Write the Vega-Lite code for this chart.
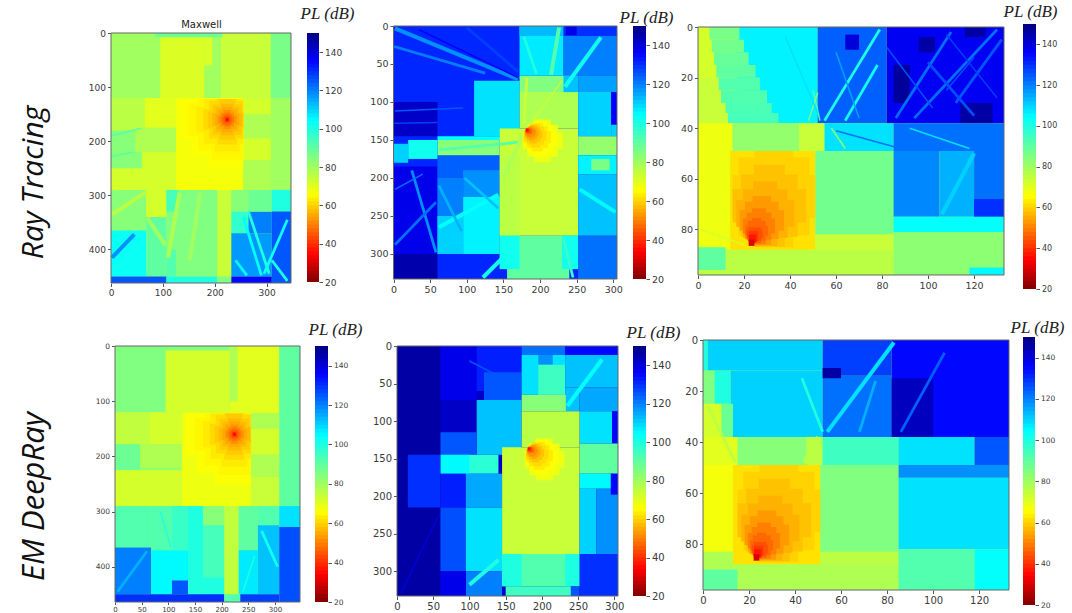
{"$schema":"https://vega.github.io/schema/vega-lite/v6.json","padding":0,"autosize":{"type":"pad"},"background":"white","config":{"view":{"stroke":null},"axis":{"grid":false,"domain":false,"labelFlush":false,"labelFont":"DejaVu Sans","labelColor":"#3a3a3a","tickColor":"#555","tickSize":3.5,"labelPadding":2,"titleFontWeight":"normal","labelOverlap":false}},
"datasets":{
"g1":[{"x":132,"x2":255,"y":122,"y2":198,"v":66},{"x":154,"x2":255,"y":122,"y2":230,"v":66},{"x":186,"x2":255,"y":122,"y2":252,"v":66},{"x":150,"x2":255,"y":130,"y2":190,"v":64.5},{"x":168,"x2":255,"y":122,"y2":216,"v":64.5},{"x":194,"x2":254,"y":122,"y2":234,"v":64.5},{"x":165,"x2":255,"y":136,"y2":184,"v":63},{"x":179,"x2":255,"y":122,"y2":205,"v":63},{"x":200,"x2":248,"y":122,"y2":219,"v":63},{"x":178,"x2":255,"y":141,"y2":179,"v":61},{"x":189,"x2":255,"y":125,"y2":195,"v":61},{"x":205,"x2":243,"y":122,"y2":206,"v":61},{"x":187,"x2":255,"y":145,"y2":175,"v":59},{"x":196,"x2":252,"y":132,"y2":188,"v":59},{"x":209,"x2":239,"y":123,"y2":197,"v":59},{"x":195,"x2":253,"y":148,"y2":172,"v":57},{"x":202,"x2":246,"y":138,"y2":182,"v":57},{"x":212,"x2":236,"y":131,"y2":189,"v":57},{"x":201,"x2":247,"y":150,"y2":170,"v":55},{"x":206.5,"x2":241.5,"y":142.5,"y2":177.5,"v":55},{"x":214,"x2":234,"y":137,"y2":183,"v":55},{"x":206.5,"x2":241.5,"y":153,"y2":167,"v":52},{"x":211,"x2":237,"y":147,"y2":173,"v":52},{"x":217,"x2":231,"y":142.5,"y2":177.5,"v":52},{"x":211,"x2":237,"y":155,"y2":165,"v":49},{"x":214,"x2":234,"y":150,"y2":170,"v":49},{"x":219,"x2":229,"y":147,"y2":173,"v":49},{"x":215,"x2":233,"y":156,"y2":164,"v":46},{"x":217,"x2":231,"y":153,"y2":167,"v":46},{"x":220,"x2":228,"y":151,"y2":169,"v":46},{"x":219,"x2":229,"y":155,"y2":165,"v":43},{"x":220.5,"x2":227.5,"y":156.5,"y2":163.5,"v":39},{"x":222,"x2":226,"y":158,"y2":162,"v":34}],
"g2":[{"x":176,"x2":231,"y":140,"y2":162,"v":68},{"x":182.5,"x2":224.5,"y":130,"y2":172,"v":68},{"x":192,"x2":215,"y":123,"y2":179,"v":68},{"x":177,"x2":223,"y":139,"y2":158,"v":66},{"x":182.5,"x2":217.5,"y":131,"y2":166,"v":66},{"x":190.5,"x2":209.5,"y":125.6,"y2":171.6,"v":66},{"x":177.5,"x2":215,"y":138.4,"y2":154,"v":63},{"x":182,"x2":210.6,"y":132,"y2":160.5,"v":63},{"x":188.5,"x2":204,"y":127.4,"y2":165,"v":63},{"x":178,"x2":209,"y":138,"y2":150.8,"v":61},{"x":181.8,"x2":205.4,"y":132.6,"y2":156.2,"v":61},{"x":187.2,"x2":200,"y":129,"y2":159.9,"v":61},{"x":178.9,"x2":203,"y":137.6,"y2":147.6,"v":58},{"x":181.8,"x2":200.2,"y":133.4,"y2":151.8,"v":58},{"x":186,"x2":196,"y":130.5,"y2":154.7,"v":58},{"x":179.3,"x2":198,"y":137.2,"y2":145,"v":55},{"x":181.6,"x2":195.8,"y":134,"y2":148.2,"v":55},{"x":184.8,"x2":192.6,"y":131.7,"y2":150.5,"v":55},{"x":179.7,"x2":194,"y":137,"y2":142.9,"v":52},{"x":181.4,"x2":192.4,"y":134.4,"y2":145.4,"v":52},{"x":183.9,"x2":189.9,"y":132.7,"y2":147,"v":52},{"x":180,"x2":190,"y":136.6,"y2":140.8,"v":48},{"x":181.2,"x2":188.8,"y":134.9,"y2":142.5,"v":48},{"x":180.4,"x2":187,"y":135,"y2":140.6,"v":44},{"x":180.6,"x2":185,"y":135,"y2":139.4,"v":39},{"x":180.7,"x2":183.1,"y":135.4,"y2":137.8,"v":33}],
"g3":[{"x":15,"x2":51,"y":58.6,"y2":75.4,"v":60},{"x":17.6,"x2":48.4,"y":51.6,"y2":82.4,"v":60},{"x":24.6,"x2":41.4,"y":49,"y2":87,"v":60},{"x":15,"x2":47,"y":64,"y2":77.3,"v":58},{"x":18.7,"x2":43.3,"y":58.3,"y2":82.9,"v":58},{"x":24.3,"x2":37.7,"y":54.4,"y2":86.8,"v":58},{"x":16.6,"x2":41.9,"y":68.5,"y2":79,"v":56},{"x":19.6,"x2":38.9,"y":64.1,"y2":83.4,"v":56},{"x":24,"x2":34.5,"y":61.1,"y2":86.4,"v":56},{"x":18.1,"x2":37.4,"y":72.4,"y2":80.5,"v":53},{"x":20.4,"x2":35,"y":69.1,"y2":83.8,"v":53},{"x":23.7,"x2":31.8,"y":66.8,"y2":86.1,"v":53},{"x":19.5,"x2":33.5,"y":75.7,"y2":81.7,"v":50},{"x":21.1,"x2":31.9,"y":73.3,"y2":84.1,"v":50},{"x":23.5,"x2":29.5,"y":71.6,"y2":85.8,"v":50},{"x":20.5,"x2":30.5,"y":78.5,"y2":82.5,"v":47},{"x":21.6,"x2":29.4,"y":76.6,"y2":84.4,"v":47},{"x":23.5,"x2":27.5,"y":75.5,"y2":85.5,"v":47},{"x":22,"x2":27.5,"y":79.2,"y2":84.6,"v":44},{"x":21.2,"x2":28.2,"y":80.3,"y2":83.4,"v":44},{"x":22.2,"x2":26.2,"y":80.7,"y2":84.7,"v":41},{"x":22.1,"x2":25.4,"y":82,"y2":85.3,"v":37},{"x":22,"x2":24.5,"y":84,"y2":86.5,"v":30}],
"a":[{"x":0,"x2":347,"y":0,"y2":462,"v":78},{"x":0,"x2":95,"y":0,"y2":120,"v":80},{"x":95,"x2":180,"y":5,"y2":120,"v":71},{"x":180,"x2":212,"y":0,"y2":122,"v":80},{"x":180,"x2":195,"y":0,"y2":60,"v":71},{"x":212,"x2":308,"y":0,"y2":122,"v":74},{"x":85,"x2":215,"y":0,"y2":8,"v":88},{"x":308,"x2":347,"y":0,"y2":120,"v":86},{"x":308,"x2":347,"y":120,"y2":290,"v":80},{"x":0,"x2":65,"y":120,"y2":180,"v":76},{"x":65,"x2":125,"y":120,"y2":175,"v":70},{"x":125,"x2":255,"y":120,"y2":290,"v":67},{"x":47,"x2":125,"y":175,"y2":220,"v":78},{"x":0,"x2":47,"y":180,"y2":290,"v":84},{"x":0,"x2":125,"y":220,"y2":290,"v":72},{"x":0,"x2":60,"y":220,"y2":250,"v":84},{"x":255,"x2":308,"y":122,"y2":150,"v":72},{"x":255,"x2":308,"y":150,"y2":195,"v":78},{"x":255,"x2":308,"y":195,"y2":235,"v":72},{"x":255,"x2":308,"y":235,"y2":290,"v":78},{"x":0,"x2":68,"y":290,"y2":365,"v":84},{"x":0,"x2":68,"y":365,"y2":450,"v":103},{"x":68,"x2":107,"y":290,"y2":340,"v":72},{"x":68,"x2":107,"y":340,"y2":450,"v":90},{"x":107,"x2":205,"y":290,"y2":450,"v":85},{"x":107,"x2":130,"y":290,"y2":330,"v":94},{"x":107,"x2":125,"y":400,"y2":450,"v":92},{"x":205,"x2":232,"y":290,"y2":462,"v":74},{"x":232,"x2":265,"y":290,"y2":330,"v":84},{"x":232,"x2":265,"y":330,"y2":370,"v":97},{"x":232,"x2":310,"y":370,"y2":450,"v":117},{"x":265,"x2":310,"y":330,"y2":370,"v":120},{"x":265,"x2":310,"y":290,"y2":330,"v":88},{"x":310,"x2":347,"y":290,"y2":330,"v":100},{"x":310,"x2":347,"y":330,"y2":462,"v":125},{"x":0,"x2":107,"y":450,"y2":462,"v":125},{"x":107,"x2":205,"y":450,"y2":462,"v":100},{"x":205,"x2":232,"y":450,"y2":462,"v":85},{"x":232,"x2":310,"y":450,"y2":462,"v":135}],
"ab":[{"x":8,"y":289,"x2":125,"y2":222,"v":72,"b":"w"},{"x":265,"y":330,"x2":305,"y2":445,"v":100,"b":"m"},{"x":255,"y":340,"x2":290,"y2":448,"v":104,"b":"m"},{"x":340,"y":345,"x2":295,"y2":445,"v":102,"b":"m"},{"x":310,"y":420,"x2":340,"y2":458,"v":100,"b":"m"},{"x":240,"y":420,"x2":262,"y2":448,"v":105,"b":"m"},{"x":2,"y":415,"x2":45,"y2":372,"v":118,"b":"w"},{"x":110,"y":415,"x2":132,"y2":295,"v":78,"b":"w"},{"x":152,"y":420,"x2":172,"y2":295,"v":80,"b":"w"},{"x":70,"y":342,"x2":105,"y2":392,"v":80,"b":"w"},{"x":1,"y":190,"x2":58,"y2":176,"v":92,"b":"n"},{"x":1,"y":228,"x2":44,"y2":220,"v":92,"b":"n"},{"x":2,"y":335,"x2":67,"y2":295,"v":76,"b":"w"}],
"b":[{"x":0,"x2":305,"y":0,"y2":333,"v":131},{"x":0,"x2":60,"y":100,"y2":145,"v":142},{"x":0,"x2":60,"y":185,"y2":300,"v":138},{"x":0,"x2":60,"y":300,"y2":333,"v":145},{"x":60,"x2":145,"y":170,"y2":200,"v":124},{"x":60,"x2":95,"y":200,"y2":300,"v":120},{"x":95,"x2":145,"y":190,"y2":225,"v":118},{"x":95,"x2":145,"y":225,"y2":300,"v":106},{"x":60,"x2":95,"y":250,"y2":300,"v":110},{"x":110,"x2":172,"y":72,"y2":145,"v":108},{"x":60,"x2":172,"y":145,"y2":150,"v":104},{"x":60,"x2":145,"y":150,"y2":170,"v":84},{"x":20,"x2":60,"y":150,"y2":175,"v":102},{"x":0,"x2":20,"y":155,"y2":180,"v":110},{"x":172,"x2":233,"y":65,"y2":87,"v":85},{"x":172,"x2":252,"y":87,"y2":135,"v":78},{"x":145,"x2":252,"y":135,"y2":276,"v":74},{"x":145,"x2":172,"y":170,"y2":276,"v":76},{"x":145,"x2":252,"y":276,"y2":320,"v":90},{"x":145,"x2":172,"y":276,"y2":320,"v":102},{"x":230,"x2":252,"y":276,"y2":320,"v":102},{"x":155,"x2":240,"y":320,"y2":333,"v":90},{"x":252,"x2":297,"y":87,"y2":145,"v":110},{"x":297,"x2":305,"y":87,"y2":130,"v":136},{"x":297,"x2":305,"y":130,"y2":145,"v":110},{"x":252,"x2":305,"y":145,"y2":170,"v":82},{"x":252,"x2":305,"y":170,"y2":195,"v":106},{"x":270,"x2":295,"y":175,"y2":190,"v":86},{"x":252,"x2":305,"y":195,"y2":276,"v":112},{"x":252,"x2":305,"y":276,"y2":333,"v":122},{"x":172,"x2":232,"y":0,"y2":65,"v":107},{"x":172,"x2":232,"y":0,"y2":13,"v":113},{"x":232,"x2":305,"y":13,"y2":65,"v":120},{"x":232,"x2":252,"y":65,"y2":87,"v":112},{"x":252,"x2":305,"y":65,"y2":87,"v":116},{"x":232,"x2":305,"y":0,"y2":13,"v":130},{"x":235,"x2":250,"y":0,"y2":12,"v":138}],
"bb":[{"x":2,"y":3,"x2":170,"y2":70,"v":118,"b":"w"},{"x":1,"y":27,"x2":125,"y2":62,"v":120,"b":"m"},{"x":35,"y":5,"x2":170,"y2":68,"v":136,"b":"n"},{"x":215,"y":64,"x2":226,"y2":2,"v":92,"b":"w"},{"x":234,"y":80,"x2":283,"y2":15,"v":102,"b":"w"},{"x":178,"y":14,"x2":195,"y2":63,"v":100,"b":"m"},{"x":25,"y":190,"x2":58,"y2":298,"v":118,"b":"m"},{"x":2,"y":288,"x2":58,"y2":232,"v":122,"b":"m"},{"x":62,"y":265,"x2":143,"y2":222,"v":104,"b":"w"},{"x":122,"y":331,"x2":170,"y2":285,"v":102,"b":"w"},{"x":232,"y":280,"x2":245,"y2":331,"v":96,"b":"m"},{"x":2,"y":112,"x2":95,"y2":108,"v":125,"b":"n"},{"x":1,"y":128,"x2":60,"y2":127,"v":128,"b":"n"},{"x":62,"y":163,"x2":170,"y2":153,"v":92,"b":"m"},{"x":150,"y":200,"x2":178,"y2":140,"v":78,"b":"w"},{"x":182,"y":68,"x2":178,"y2":130,"v":74,"b":"m"},{"x":230,"y":72,"x2":186,"y2":130,"v":74,"b":"n"},{"x":254,"y":215,"x2":303,"y2":245,"v":105,"b":"w"},{"x":100,"y":2,"x2":170,"y2":60,"v":128,"b":"m"},{"x":97,"y":200,"x2":143,"y2":240,"v":112,"b":"m"},{"x":62,"y":210,"x2":93,"y2":270,"v":114,"b":"m"},{"x":2,"y":215,"x2":40,"y2":195,"v":122,"b":"n"}],
"c":[{"x":0,"x2":133,"y":0,"y2":98,"v":74},{"x":17,"x2":52,"y":0,"y2":38,"v":106},{"x":0,"x2":5,"y":0,"y2":5,"v":72},{"x":5,"x2":18,"y":0,"y2":5,"v":86},{"x":0,"x2":6,"y":5,"y2":10,"v":72},{"x":6,"x2":20,"y":5,"y2":10,"v":87},{"x":0,"x2":7,"y":10,"y2":15,"v":72},{"x":7,"x2":22,"y":10,"y2":15,"v":89},{"x":0,"x2":8,"y":15,"y2":20,"v":72},{"x":8,"x2":25,"y":15,"y2":20,"v":90},{"x":0,"x2":9,"y":20,"y2":25,"v":74},{"x":9,"x2":27,"y":20,"y2":25,"v":92},{"x":0,"x2":10,"y":25,"y2":30,"v":74},{"x":10,"x2":30,"y":25,"y2":30,"v":92},{"x":0,"x2":12,"y":30,"y2":34,"v":74},{"x":12,"x2":32,"y":30,"y2":34,"v":93},{"x":0,"x2":13,"y":34,"y2":38,"v":74},{"x":13,"x2":35,"y":34,"y2":38,"v":94},{"x":52,"x2":82,"y":0,"y2":38,"v":124},{"x":82,"x2":133,"y":0,"y2":38,"v":137},{"x":85,"x2":92,"y":15,"y2":30,"v":147},{"x":114,"x2":128,"y":30,"y2":38,"v":146},{"x":64,"x2":70,"y":3,"y2":9,"v":140},{"x":96,"x2":103,"y":4,"y2":10,"v":146},{"x":116,"x2":125,"y":0,"y2":4,"v":146},{"x":0,"x2":15,"y":38,"y2":49,"v":68},{"x":15,"x2":44,"y":38,"y2":49,"v":82},{"x":44,"x2":55,"y":38,"y2":49,"v":74},{"x":55,"x2":85,"y":38,"y2":49,"v":108},{"x":85,"x2":133,"y":38,"y2":49,"v":122},{"x":0,"x2":14,"y":49,"y2":88,"v":68},{"x":14,"x2":51,"y":49,"y2":88,"v":62},{"x":51,"x2":85,"y":49,"y2":82,"v":87},{"x":85,"x2":105,"y":49,"y2":75,"v":119},{"x":105,"x2":120,"y":49,"y2":75,"v":114},{"x":120,"x2":133,"y":49,"y2":75,"v":122},{"x":120,"x2":133,"y":68,"y2":75,"v":130},{"x":85,"x2":133,"y":75,"y2":81,"v":104},{"x":0,"x2":85,"y":88,"y2":98,"v":76},{"x":51,"x2":85,"y":82,"y2":88,"v":74},{"x":85,"x2":133,"y":81,"y2":98,"v":83},{"x":0,"x2":12,"y":87,"y2":96,"v":90},{"x":118,"x2":133,"y":95,"y2":98,"v":105}],
"cb":[{"x":79,"y":1,"x2":55,"y2":37,"v":100,"b":"m"},{"x":78,"y":15,"x2":64,"y2":37,"v":102,"b":"m"},{"x":110,"y":2,"x2":86,"y2":36,"v":122,"b":"m"},{"x":130,"y":1,"x2":94,"y2":36,"v":122,"b":"m"},{"x":82,"y":8,"x2":102,"y2":32,"v":126,"b":"n"},{"x":108,"y":25,"x2":120,"y2":12,"v":126,"b":"n"},{"x":58,"y":40,"x2":64,"y2":48,"v":85,"b":"n"},{"x":60,"y":41,"x2":88,"y2":48,"v":122,"b":"n"},{"x":92,"y":40,"x2":118,"y2":48,"v":108,"b":"n"},{"x":106,"y":74,"x2":120,"y2":50,"v":110,"b":"w"},{"x":53,"y":37,"x2":50,"y2":25,"v":95,"b":"n"},{"x":48,"y":37,"x2":52,"y2":26,"v":85,"b":"n"},{"x":1,"y":80,"x2":20,"y2":86,"v":72,"b":"n"},{"x":38,"y":4,"x2":52,"y2":34,"v":108,"b":"n"},{"x":132,"y":5,"x2":112,"y2":30,"v":125,"b":"m"},{"x":100,"y":14,"x2":120,"y2":35,"v":126,"b":"m"},{"x":108,"y":3,"x2":130,"y2":28,"v":128,"b":"n"},{"x":60,"y":10,"x2":70,"y2":36,"v":116,"b":"n"}],
"d":[{"x":0,"x2":347,"y":0,"y2":464,"v":82},{"x":0,"x2":95,"y":0,"y2":120,"v":85},{"x":85,"x2":220,"y":0,"y2":8,"v":85},{"x":95,"x2":215,"y":8,"y2":120,"v":72},{"x":215,"x2":308,"y":0,"y2":122,"v":70},{"x":215,"x2":230,"y":0,"y2":100,"v":78},{"x":308,"x2":347,"y":0,"y2":290,"v":90},{"x":0,"x2":65,"y":120,"y2":180,"v":75},{"x":65,"x2":125,"y":120,"y2":178,"v":72},{"x":125,"x2":255,"y":120,"y2":290,"v":68},{"x":47,"x2":125,"y":178,"y2":220,"v":78},{"x":0,"x2":47,"y":178,"y2":225,"v":88},{"x":0,"x2":125,"y":225,"y2":290,"v":72},{"x":255,"x2":308,"y":122,"y2":150,"v":78},{"x":255,"x2":308,"y":150,"y2":197,"v":72},{"x":255,"x2":308,"y":197,"y2":237,"v":78},{"x":255,"x2":308,"y":237,"y2":290,"v":74},{"x":0,"x2":68,"y":290,"y2":365,"v":92},{"x":0,"x2":68,"y":365,"y2":450,"v":120},{"x":68,"x2":107,"y":290,"y2":370,"v":92},{"x":68,"x2":137,"y":370,"y2":450,"v":105},{"x":107,"x2":137,"y":290,"y2":370,"v":96},{"x":107,"x2":137,"y":425,"y2":450,"v":125},{"x":137,"x2":165,"y":290,"y2":450,"v":100},{"x":165,"x2":205,"y":290,"y2":325,"v":84},{"x":165,"x2":205,"y":325,"y2":450,"v":94},{"x":165,"x2":205,"y":420,"y2":450,"v":100},{"x":205,"x2":232,"y":290,"y2":450,"v":75},{"x":232,"x2":268,"y":290,"y2":370,"v":90},{"x":232,"x2":268,"y":370,"y2":450,"v":107},{"x":268,"x2":308,"y":290,"y2":325,"v":92},{"x":268,"x2":308,"y":325,"y2":450,"v":112},{"x":308,"x2":347,"y":290,"y2":328,"v":108},{"x":308,"x2":347,"y":328,"y2":464,"v":126},{"x":0,"x2":205,"y":450,"y2":464,"v":130},{"x":205,"x2":235,"y":450,"y2":464,"v":92},{"x":235,"x2":308,"y":450,"y2":464,"v":128}],
"db":[{"x":2,"y":290,"x2":65,"y2":250,"v":72,"b":"n"},{"x":5,"y":445,"x2":60,"y2":372,"v":114,"b":"m"},{"x":85,"y":300,"x2":105,"y2":365,"v":100,"b":"n"},{"x":275,"y":335,"x2":305,"y2":400,"v":102,"b":"m"},{"x":240,"y":445,"x2":262,"y2":380,"v":100,"b":"n"}],
"e":[{"x":0,"x2":305,"y":0,"y2":333,"v":142},{"x":0,"x2":60,"y":0,"y2":333,"v":146},{"x":60,"x2":110,"y":0,"y2":72,"v":138},{"x":110,"x2":172,"y":0,"y2":60,"v":132},{"x":120,"x2":172,"y":35,"y2":72,"v":125},{"x":110,"x2":172,"y":72,"y2":145,"v":112},{"x":60,"x2":110,"y":115,"y2":145,"v":125},{"x":172,"x2":232,"y":0,"y2":12,"v":122},{"x":172,"x2":232,"y":12,"y2":65,"v":108},{"x":195,"x2":215,"y":12,"y2":25,"v":118},{"x":195,"x2":232,"y":25,"y2":65,"v":95},{"x":232,"x2":305,"y":0,"y2":12,"v":135},{"x":232,"x2":305,"y":12,"y2":55,"v":112},{"x":232,"x2":252,"y":55,"y2":87,"v":112},{"x":252,"x2":305,"y":55,"y2":87,"v":115},{"x":252,"x2":297,"y":87,"y2":130,"v":108},{"x":297,"x2":305,"y":87,"y2":130,"v":135},{"x":252,"x2":305,"y":130,"y2":170,"v":90},{"x":172,"x2":233,"y":65,"y2":87,"v":84},{"x":172,"x2":252,"y":87,"y2":135,"v":76},{"x":145,"x2":252,"y":135,"y2":277,"v":74},{"x":60,"x2":140,"y":145,"y2":170,"v":98},{"x":60,"x2":100,"y":145,"y2":170,"v":105},{"x":15,"x2":60,"y":145,"y2":215,"v":130},{"x":60,"x2":95,"y":170,"y2":215,"v":132},{"x":60,"x2":95,"y":215,"y2":300,"v":126},{"x":95,"x2":145,"y":170,"y2":215,"v":115},{"x":95,"x2":145,"y":215,"y2":300,"v":108},{"x":95,"x2":145,"y":300,"y2":333,"v":120},{"x":60,"x2":95,"y":300,"y2":333,"v":138},{"x":145,"x2":252,"y":277,"y2":320,"v":92},{"x":145,"x2":172,"y":277,"y2":320,"v":100},{"x":232,"x2":252,"y":277,"y2":320,"v":100},{"x":150,"x2":240,"y":320,"y2":333,"v":95},{"x":240,"x2":252,"y":320,"y2":333,"v":125},{"x":252,"x2":305,"y":170,"y2":190,"v":105},{"x":252,"x2":275,"y":190,"y2":277,"v":110},{"x":275,"x2":305,"y":190,"y2":277,"v":118},{"x":252,"x2":305,"y":277,"y2":333,"v":130},{"x":295,"x2":305,"y":170,"y2":198,"v":135}],
"eb":[{"x":235,"y":80,"x2":283,"y2":18,"v":104,"b":"w"},{"x":100,"y":318,"x2":140,"y2":285,"v":100,"b":"w"},{"x":100,"y":20,"x2":170,"y2":55,"v":125,"b":"n"},{"x":5,"y":330,"x2":58,"y2":225,"v":140,"b":"n"}],
"f":[{"x":0,"x2":133,"y":0,"y2":98,"v":78},{"x":0,"x2":2,"y":0,"y2":12,"v":100},{"x":2,"x2":52,"y":0,"y2":12,"v":110},{"x":0,"x2":5,"y":12,"y2":25,"v":85},{"x":5,"x2":12,"y":12,"y2":25,"v":100},{"x":12,"x2":52,"y":12,"y2":38,"v":110},{"x":0,"x2":8,"y":25,"y2":38,"v":72},{"x":8,"x2":13,"y":25,"y2":38,"v":88},{"x":52,"x2":82,"y":14,"y2":38,"v":122},{"x":52,"x2":82,"y":0,"y2":14,"v":128},{"x":82,"x2":133,"y":0,"y2":38,"v":135},{"x":82,"x2":100,"y":15,"y2":38,"v":143},{"x":52,"x2":60,"y":11,"y2":15,"v":146},{"x":0,"x2":15,"y":38,"y2":49,"v":70},{"x":15,"x2":45,"y":38,"y2":49,"v":84},{"x":45,"x2":52,"y":38,"y2":49,"v":76},{"x":52,"x2":85,"y":38,"y2":49,"v":95},{"x":85,"x2":118,"y":38,"y2":49,"v":108},{"x":118,"x2":133,"y":38,"y2":49,"v":125},{"x":0,"x2":13,"y":49,"y2":83,"v":67},{"x":13,"x2":51,"y":49,"y2":88,"v":62},{"x":51,"x2":85,"y":49,"y2":83,"v":85},{"x":85,"x2":133,"y":54,"y2":82,"v":108},{"x":85,"x2":133,"y":49,"y2":54,"v":118},{"x":0,"x2":85,"y":88,"y2":98,"v":78},{"x":51,"x2":85,"y":83,"y2":88,"v":76},{"x":0,"x2":13,"y":83,"y2":88,"v":78},{"x":85,"x2":118,"y":82,"y2":98,"v":92},{"x":118,"x2":133,"y":82,"y2":98,"v":104},{"x":0,"x2":15,"y":90,"y2":98,"v":90}],
"fb":[{"x":83,"y":1,"x2":54,"y2":36,"v":108,"b":"w"},{"x":50,"y":38,"x2":44,"y2":48,"v":76,"b":"w"},{"x":43,"y":15,"x2":52,"y2":36,"v":100,"b":"m"},{"x":105,"y":5,"x2":86,"y2":36,"v":124,"b":"m"},{"x":68,"y":36,"x2":75,"y2":16,"v":114,"b":"m"},{"x":2,"y":26,"x2":14,"y2":48,"v":76,"b":"m"}],
"bar":[{"y":20,"y2":23,"v":21},{"y":22,"y2":25,"v":23},{"y":24,"y2":27,"v":25},{"y":26,"y2":29,"v":27},{"y":28,"y2":31,"v":29},{"y":30,"y2":33,"v":31},{"y":32,"y2":35,"v":33},{"y":34,"y2":37,"v":35},{"y":36,"y2":39,"v":37},{"y":38,"y2":41,"v":39},{"y":40,"y2":43,"v":41},{"y":42,"y2":45,"v":43},{"y":44,"y2":47,"v":45},{"y":46,"y2":49,"v":47},{"y":48,"y2":51,"v":49},{"y":50,"y2":53,"v":51},{"y":52,"y2":55,"v":53},{"y":54,"y2":57,"v":55},{"y":56,"y2":59,"v":57},{"y":58,"y2":61,"v":59},{"y":60,"y2":63,"v":61},{"y":62,"y2":65,"v":63},{"y":64,"y2":67,"v":65},{"y":66,"y2":69,"v":67},{"y":68,"y2":71,"v":69},{"y":70,"y2":73,"v":71},{"y":72,"y2":75,"v":73},{"y":74,"y2":77,"v":75},{"y":76,"y2":79,"v":77},{"y":78,"y2":81,"v":79},{"y":80,"y2":83,"v":81},{"y":82,"y2":85,"v":83},{"y":84,"y2":87,"v":85},{"y":86,"y2":89,"v":87},{"y":88,"y2":91,"v":89},{"y":90,"y2":93,"v":91},{"y":92,"y2":95,"v":93},{"y":94,"y2":97,"v":95},{"y":96,"y2":99,"v":97},{"y":98,"y2":101,"v":99},{"y":100,"y2":103,"v":101},{"y":102,"y2":105,"v":103},{"y":104,"y2":107,"v":105},{"y":106,"y2":109,"v":107},{"y":108,"y2":111,"v":109},{"y":110,"y2":113,"v":111},{"y":112,"y2":115,"v":113},{"y":114,"y2":117,"v":115},{"y":116,"y2":119,"v":117},{"y":118,"y2":121,"v":119},{"y":120,"y2":123,"v":121},{"y":122,"y2":125,"v":123},{"y":124,"y2":127,"v":125},{"y":126,"y2":129,"v":127},{"y":128,"y2":131,"v":129},{"y":130,"y2":133,"v":131},{"y":132,"y2":135,"v":133},{"y":134,"y2":137,"v":135},{"y":136,"y2":139,"v":137},{"y":138,"y2":141,"v":139},{"y":140,"y2":143,"v":141},{"y":142,"y2":145,"v":143},{"y":144,"y2":147,"v":145},{"y":146,"y2":149,"v":147},{"y":148,"y2":150,"v":149}]
},
"concat":[
{"width":305,"height":308,"encoding":{"x":{"field":"x","type":"quantitative","scale":{"domain":[0,347],"range":[111,291],"nice":false,"zero":false},"axis":{"values":[0,100,200,300],"offset":-25,"labelFontSize":9,"title":"Maxwell","titleFont":"DejaVu Sans","titleFontSize":10,"titleColor":"#222","titleX":201,"titleY":-256,"titleBaseline":"alphabetic","titleAlign":"center"}},"x2":{"field":"x2"},"y":{"field":"y","type":"quantitative","scale":{"domain":[0,462],"range":[33,283],"nice":false,"zero":false},"axis":{"values":[0,100,200,300,400],"offset":-111,"labelFontSize":9,"title":"Ray Tracing","titleFont":"Open Sans","titleFontStyle":"italic","titleFontSize":30,"titleColor":"#111","titleX":-69,"titleY":182,"titleAngle":-90,"titleBaseline":"alphabetic","titleAlign":"center"}},"y2":{"field":"y2"},"color":{"field":"v","type":"quantitative","legend":null,"scale":{"domain":[20,34.3,65.5,85,104.5,135.7,150],"range":["#800000","#ff0000","#ffff00","#80ff80","#00ffff","#0000ff","#000080"],"interpolate":"rgb"}}},"layer":[{"data":{"name":"a"},"mark":"rect"},{"data":{"name":"ab"},"mark":"rule","encoding":{"size":{"field":"b","type":"ordinal","legend":null,"scale":{"domain":["n","m","w"],"range":[1.5,4,9]}}}},{"data":{"name":"g1"},"mark":"rect"},{"data":{"values":[{"x":0,"x2":347,"y":0,"y2":462}]},"mark":{"type":"rect","stroke":"#666","strokeWidth":1,"fillOpacity":0},"encoding":{"color":{"value":"transparent"}}}]},
{"width":80,"height":308,"data":{"name":"bar"},"encoding":{"x":{"datum":0,"type":"quantitative","scale":{"domain":[0,1],"range":[2,14],"nice":false,"zero":false},"axis":{"ticks":false,"labels":false,"title":"PL (dB)","titleFont":"Liberation Serif","titleFontStyle":"italic","titleFontSize":17,"titleColor":"#222","titleX":22,"titleY":-290,"titleBaseline":"alphabetic","titleAlign":"center"}},"x2":{"datum":1},"y":{"field":"y","type":"quantitative","scale":{"domain":[20,150],"range":[282,33],"nice":false,"zero":false},"axis":{"orient":"right","values":[20,40,60,80,100,120,140],"offset":-66,"labelFontSize":9,"title":null}},"y2":{"field":"y2"},"color":{"field":"v","type":"quantitative","legend":null}},"layer":[{"mark":"rect"}]},
{"width":240,"height":308,"encoding":{"x":{"field":"x","type":"quantitative","scale":{"domain":[0,305],"range":[8.5,232],"nice":false,"zero":false},"axis":{"values":[0,50,100,150,200,250,300],"offset":-29,"labelFontSize":9.5,"title":null}},"x2":{"field":"x2"},"y":{"field":"y","type":"quantitative","scale":{"domain":[0,333],"range":[26,279],"nice":false,"zero":false},"axis":{"values":[0,50,100,150,200,250,300],"offset":-8.5,"labelFontSize":9.5,"title":null}},"y2":{"field":"y2"},"color":{"field":"v","type":"quantitative","legend":null}},"layer":[{"data":{"name":"b"},"mark":"rect"},{"data":{"name":"bb"},"mark":"rule","encoding":{"size":{"field":"b","type":"ordinal","legend":null,"scale":{"domain":["n","m","w"],"range":[1.5,4,9]}}}},{"data":{"name":"g2"},"mark":"rect"},{"data":{"values":[{"x":0,"x2":305,"y":0,"y2":333}]},"mark":{"type":"rect","stroke":"#666","strokeWidth":1,"fillOpacity":0},"encoding":{"color":{"value":"transparent"}}}]},
{"width":65,"height":308,"data":{"name":"bar"},"encoding":{"x":{"datum":0,"type":"quantitative","scale":{"domain":[0,1],"range":[8,21],"nice":false,"zero":false},"axis":{"ticks":false,"labels":false,"title":"PL (dB)","titleFont":"Liberation Serif","titleFontStyle":"italic","titleFontSize":17,"titleColor":"#222","titleX":21,"titleY":-286,"titleBaseline":"alphabetic","titleAlign":"center"}},"x2":{"datum":1},"y":{"field":"y","type":"quantitative","scale":{"domain":[20,150],"range":[279,26],"nice":false,"zero":false},"axis":{"orient":"right","values":[20,40,60,80,100,120,140],"offset":-44,"labelFontSize":9.5,"title":null}},"y2":{"field":"y2"},"color":{"field":"v","type":"quantitative","legend":null}},"layer":[{"mark":"rect"}]},
{"width":325,"height":308,"encoding":{"x":{"field":"x","type":"quantitative","scale":{"domain":[0,133],"range":[8,314],"nice":false,"zero":false},"axis":{"values":[0,20,40,60,80,100,120],"offset":-33,"labelFontSize":9.5,"title":null}},"x2":{"field":"x2"},"y":{"field":"y","type":"quantitative","scale":{"domain":[0,98],"range":[27,275],"nice":false,"zero":false},"axis":{"values":[0,20,40,60,80],"offset":-8,"labelFontSize":9.5,"title":null}},"y2":{"field":"y2"},"color":{"field":"v","type":"quantitative","legend":null}},"layer":[{"data":{"name":"c"},"mark":"rect"},{"data":{"name":"cb"},"mark":"rule","encoding":{"size":{"field":"b","type":"ordinal","legend":null,"scale":{"domain":["n","m","w"],"range":[1.5,4,9]}}}},{"data":{"name":"g3"},"mark":"rect"},{"data":{"values":[{"x":0,"x2":133,"y":0,"y2":98}]},"mark":{"type":"rect","stroke":"#666","strokeWidth":1,"fillOpacity":0},"encoding":{"color":{"value":"transparent"}}}]},
{"width":57,"height":308,"data":{"name":"bar"},"encoding":{"x":{"datum":0,"type":"quantitative","scale":{"domain":[0,1],"range":[8,21],"nice":false,"zero":false},"axis":{"ticks":false,"labels":false,"title":"PL (dB)","titleFont":"Liberation Serif","titleFontStyle":"italic","titleFontSize":17,"titleColor":"#222","titleX":15,"titleY":-292,"titleBaseline":"alphabetic","titleAlign":"center"}},"x2":{"datum":1},"y":{"field":"y","type":"quantitative","scale":{"domain":[20,150],"range":[289,24],"nice":false,"zero":false},"axis":{"orient":"right","values":[20,40,60,80,100,120,140],"offset":-36,"labelFontSize":8,"title":null}},"y2":{"field":"y2"},"color":{"field":"v","type":"quantitative","legend":null}},"layer":[{"mark":"rect"}]},
{"width":305,"height":305,"encoding":{"x":{"field":"x","type":"quantitative","scale":{"domain":[0,347],"range":[115,300],"nice":false,"zero":false},"axis":{"values":[0,50,100,150,200,250,300],"offset":-11,"labelFontSize":7,"tickSize":2.5,"labelPadding":0.5,"title":null}},"x2":{"field":"x2"},"y":{"field":"y","type":"quantitative","scale":{"domain":[0,464],"range":[38,294],"nice":false,"zero":false},"axis":{"values":[0,100,200,300,400],"offset":-115,"labelFontSize":7.5,"title":"EM DeepRay","titleFont":"Open Sans","titleFontStyle":"italic","titleFontSize":31,"titleColor":"#111","titleX":-72,"titleY":188,"titleAngle":-90,"titleBaseline":"alphabetic","titleAlign":"center"}},"y2":{"field":"y2"},"color":{"field":"v","type":"quantitative","legend":null}},"layer":[{"data":{"name":"d"},"mark":"rect"},{"data":{"name":"db"},"mark":"rule","encoding":{"size":{"field":"b","type":"ordinal","legend":null,"scale":{"domain":["n","m","w"],"range":[1.5,4,9]}}}},{"data":{"name":"g1"},"mark":"rect"},{"data":{"values":[{"x":0,"x2":347,"y":0,"y2":464}]},"mark":{"type":"rect","stroke":"#666","strokeWidth":1,"fillOpacity":0},"encoding":{"color":{"value":"transparent"}}}]},
{"width":80,"height":305,"data":{"name":"bar"},"encoding":{"x":{"datum":0,"type":"quantitative","scale":{"domain":[0,1],"range":[10,23],"nice":false,"zero":false},"axis":{"ticks":false,"labels":false,"title":"PL (dB)","titleFont":"Liberation Serif","titleFontStyle":"italic","titleFontSize":17,"titleColor":"#222","titleX":30,"titleY":-279,"titleBaseline":"alphabetic","titleAlign":"center"}},"x2":{"datum":1},"y":{"field":"y","type":"quantitative","scale":{"domain":[20,150],"range":[294,38],"nice":false,"zero":false},"axis":{"orient":"right","values":[20,40,60,80,100,120,140],"offset":-57,"labelFontSize":7.5,"title":null}},"y2":{"field":"y2"},"color":{"field":"v","type":"quantitative","legend":null}},"layer":[{"mark":"rect"}]},
{"width":240,"height":305,"encoding":{"x":{"field":"x","type":"quantitative","scale":{"domain":[0,305],"range":[12,233],"nice":false,"zero":false},"axis":{"values":[0,50,100,150,200,250,300],"offset":-17,"labelFontSize":10,"title":null}},"x2":{"field":"x2"},"y":{"field":"y","type":"quantitative","scale":{"domain":[0,333],"range":[38,288],"nice":false,"zero":false},"axis":{"values":[0,50,100,150,200,250,300],"offset":-12,"labelFontSize":10,"title":null}},"y2":{"field":"y2"},"color":{"field":"v","type":"quantitative","legend":null}},"layer":[{"data":{"name":"e"},"mark":"rect"},{"data":{"name":"eb"},"mark":"rule","encoding":{"size":{"field":"b","type":"ordinal","legend":null,"scale":{"domain":["n","m","w"],"range":[1.5,4,9]}}}},{"data":{"name":"g2"},"mark":"rect"},{"data":{"values":[{"x":0,"x2":305,"y":0,"y2":333}]},"mark":{"type":"rect","stroke":"#666","strokeWidth":1,"fillOpacity":0},"encoding":{"color":{"value":"transparent"}}}]},
{"width":65,"height":305,"data":{"name":"bar"},"encoding":{"x":{"datum":0,"type":"quantitative","scale":{"domain":[0,1],"range":[8,21],"nice":false,"zero":false},"axis":{"ticks":false,"labels":false,"title":"PL (dB)","titleFont":"Liberation Serif","titleFontStyle":"italic","titleFontSize":17,"titleColor":"#222","titleX":28,"titleY":-276,"titleBaseline":"alphabetic","titleAlign":"center"}},"x2":{"datum":1},"y":{"field":"y","type":"quantitative","scale":{"domain":[20,150],"range":[288,38],"nice":false,"zero":false},"axis":{"orient":"right","values":[20,40,60,80,100,120,140],"offset":-44,"labelFontSize":10,"title":null}},"y2":{"field":"y2"},"color":{"field":"v","type":"quantitative","legend":null}},"layer":[{"mark":"rect"}]},
{"width":325,"height":305,"encoding":{"x":{"field":"x","type":"quantitative","scale":{"domain":[0,133],"range":[13,319],"nice":false,"zero":false},"axis":{"values":[0,20,40,60,80,100,120],"offset":-23,"labelFontSize":10,"title":null}},"x2":{"field":"x2"},"y":{"field":"y","type":"quantitative","scale":{"domain":[0,98],"range":[32,282],"nice":false,"zero":false},"axis":{"values":[0,20,40,60,80],"offset":-13,"labelFontSize":10,"title":null}},"y2":{"field":"y2"},"color":{"field":"v","type":"quantitative","legend":null}},"layer":[{"data":{"name":"f"},"mark":"rect"},{"data":{"name":"fb"},"mark":"rule","encoding":{"size":{"field":"b","type":"ordinal","legend":null,"scale":{"domain":["n","m","w"],"range":[1.5,4,9]}}}},{"data":{"name":"g3"},"mark":"rect"},{"data":{"values":[{"x":0,"x2":133,"y":0,"y2":98}]},"mark":{"type":"rect","stroke":"#666","strokeWidth":1,"fillOpacity":0},"encoding":{"color":{"value":"transparent"}}}]},
{"width":57,"height":305,"data":{"name":"bar"},"encoding":{"x":{"datum":0,"type":"quantitative","scale":{"domain":[0,1],"range":[8,20],"nice":false,"zero":false},"axis":{"ticks":false,"labels":false,"title":"PL (dB)","titleFont":"Liberation Serif","titleFontStyle":"italic","titleFontSize":17,"titleColor":"#222","titleX":22,"titleY":-281,"titleBaseline":"alphabetic","titleAlign":"center"}},"x2":{"datum":1},"y":{"field":"y","type":"quantitative","scale":{"domain":[20,150],"range":[297,29],"nice":false,"zero":false},"axis":{"orient":"right","values":[20,40,60,80,100,120,140],"offset":-37,"labelFontSize":7.5,"title":null}},"y2":{"field":"y2"},"color":{"field":"v","type":"quantitative","legend":null}},"layer":[{"mark":"rect"}]}
],"columns":6,"spacing":0,"bounds":"flush","align":"each"}
